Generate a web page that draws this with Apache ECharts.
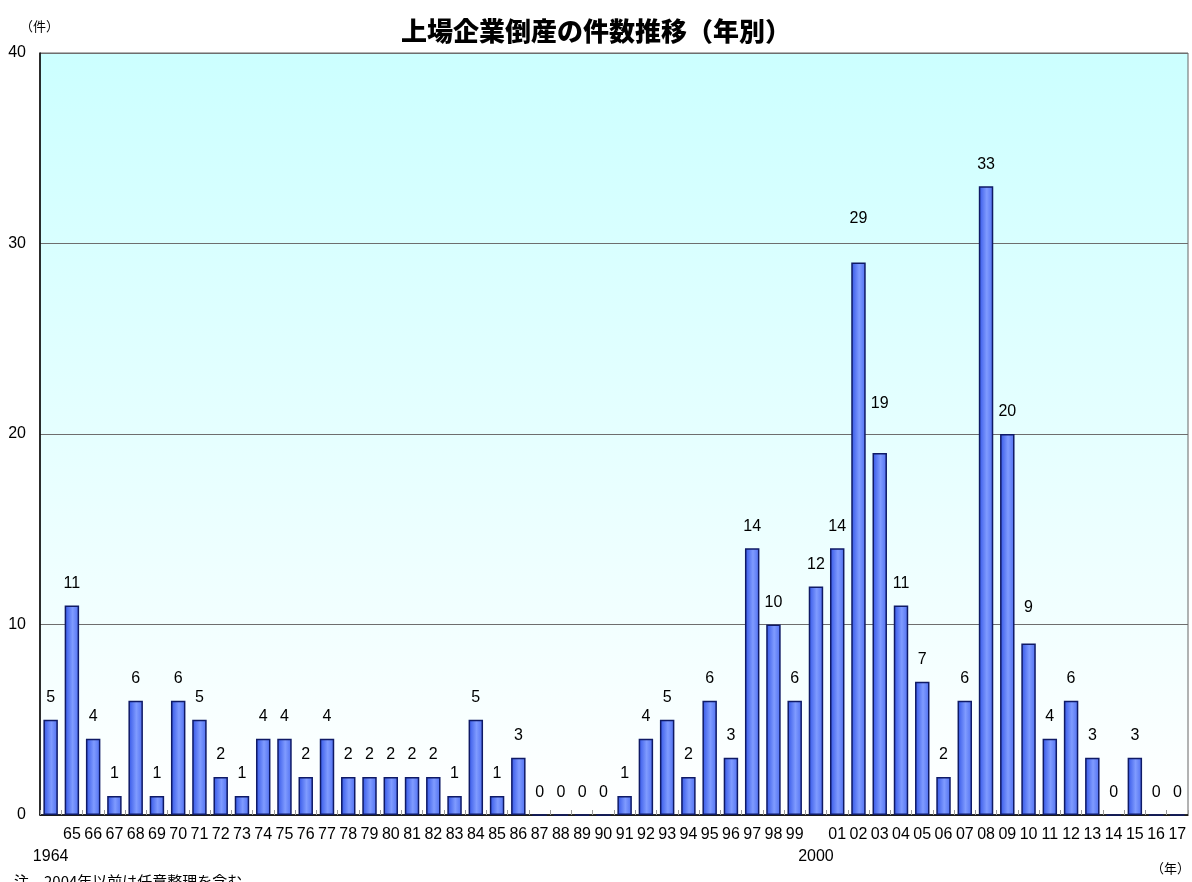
<!DOCTYPE html>
<html>
<head>
<meta charset="utf-8">
<script src="https://cdn.jsdelivr.net/npm/echarts@6/dist/echarts.min.js"></script>
<style>html,body{margin:0;padding:0;background:#fff}#c{width:1192px;height:882px}</style>
</head>
<body>
<div id="c"></div>
<script>
var years = [];
for (var y = 1964; y <= 2017; y++) years.push(y);
var counts = [5, 11, 4, 1, 6, 1, 6, 5, 2, 1, 4, 4, 2, 4, 2, 2, 2, 2, 2, 1, 5, 1, 3, 0, 0, 0, 0,
  1, 4, 5, 2, 6, 3, 14, 10, 6, 12, 14, 29, 19, 11, 7, 2, 6, 33, 20, 9, 4, 6, 3, 0, 3, 0, 0];
var yTicks = [0, 10, 20, 30, 40];
var titleText = '上場企業倒産の件数推移（年別）';
var yUnit = '（件）';
var xUnit = '（年）';
var noteText = '注　2004年以前は任意整理を含む';
// extra label lifts (px) where the original chart moved labels to avoid overlaps
var labelLift = { 2002: 22, 2003: 27, 2010: 14 };

var fontNum = 'Liberation Sans, Arial, sans-serif';
var fontJp = 'Noto Sans CJK JP, sans-serif';

function yearLabel(v) {
  var yr = +v;
  if (yr === 1964 || yr === 2000) return '\n' + yr;
  return String(yr % 100).padStart(2, '0');
}

var barColor = new echarts.graphic.LinearGradient(0, 0, 1, 0, [
  { offset: 0, color: '#3355e6' },
  { offset: 0.55, color: '#7f9bff' },
  { offset: 1, color: '#4f6ff0' }
]);

var seriesData = counts.map(function (v, i) {
  var item = { value: v };
  var lift = labelLift[years[i]];
  if (lift) item.label = { distance: 14 + lift };
  return item;
});

var chart = echarts.init(document.getElementById('c'));
chart.setOption({
  animation: false,
  title: {
    text: titleText,
    left: 'center',
    top: 13,
    textStyle: { fontFamily: fontJp, fontSize: 26, fontWeight: 900, color: '#000' }
  },
  grid: {
    left: 40, right: 4, top: 53, bottom: 67,
    show: true,
    borderColor: '#666',
    borderWidth: 1,
    backgroundColor: new echarts.graphic.LinearGradient(0, 0, 0, 1, [
      { offset: 0, color: '#ccffff' },
      { offset: 1, color: '#ffffff' }
    ])
  },
  xAxis: {
    type: 'category',
    data: years.map(String),
    axisLine: { lineStyle: { color: '#000', width: 1.5 } },
    axisTick: { show: true, inside: true, length: 5, alignWithLabel: false, lineStyle: { color: '#999' } },
    axisLabel: {
      interval: 0,
      margin: 9,
      fontFamily: fontNum,
      fontSize: 16,
      lineHeight: 22,
      color: '#000',
      formatter: yearLabel
    }
  },
  yAxis: {
    type: 'value',
    min: yTicks[0],
    max: yTicks[yTicks.length - 1],
    interval: 10,
    axisLine: { show: true, lineStyle: { color: '#000', width: 1.5 } },
    axisTick: { show: false },
    axisLabel: { margin: 14, fontFamily: fontNum, fontSize: 16, color: '#000' },
    splitLine: { lineStyle: { color: '#6e6e6e', width: 1 } }
  },
  series: [{
    type: 'bar',
    data: seriesData,
    barWidth: '68%',
    itemStyle: { color: barColor, borderColor: '#0f1a66', borderWidth: 1.5 },
    label: {
      show: true,
      position: 'top',
      distance: 14,
      fontFamily: fontNum,
      fontSize: 16,
      color: '#000'
    }
  }],
  graphic: [
    { type: 'text', left: 20, top: 20, style: { text: yUnit, fontFamily: fontJp, fontSize: 13, fill: '#000' } },
    { type: 'text', right: 2, top: 862, style: { text: xUnit, fontFamily: fontJp, fontSize: 13, fill: '#000' } },
    { type: 'text', left: 14, top: 874, style: { text: noteText, fontFamily: fontJp, fontSize: 15, fill: '#000' } }
  ]
});
</script>
</body>
</html>
